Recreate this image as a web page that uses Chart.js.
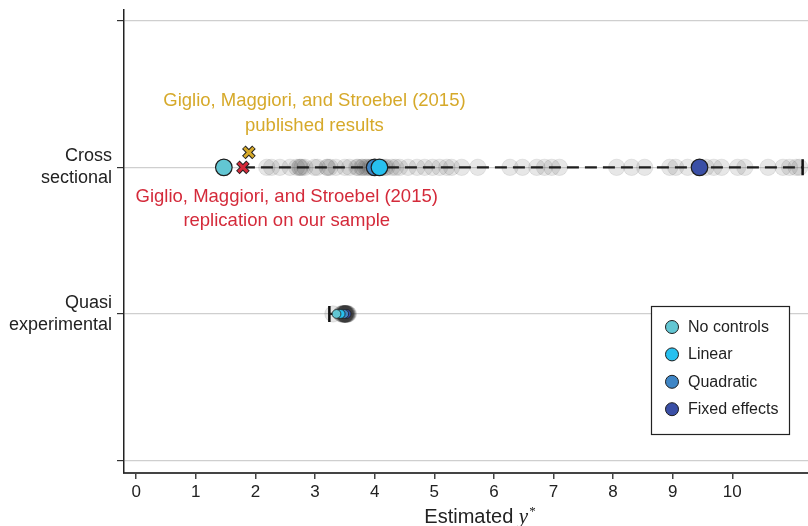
<!DOCTYPE html>
<html>
<head>
<meta charset="utf-8">
<script src="https://cdn.jsdelivr.net/npm/chart.js@4"></script>
<style>
  html, body { margin: 0; padding: 0; background: #ffffff; }
  #wrap { width: 808px; height: 526px; }
</style>
</head>
<body>
<div id="wrap"><canvas id="c" width="808" height="526"></canvas></div>
<script>
// Rows of the chart (category positions 1 and 2 on the vertical scale)
const rowLabels = [["Cross", "sectional"], ["Quasi", "experimental"]];
const rowPositions = [0, 1, 2, 3];
const xTickValues = [0, 1, 2, 3, 4, 5, 6, 7, 8, 9, 10];

// Headline estimates by control specification
const seriesNames = ["No controls", "Linear", "Quadratic", "Fixed effects"];
const seriesColors = ["#62C6D3", "#27C0EF", "#3F86C6", "#3A4FA6"];
const crossEstimates = [1.47, 4.08, 4.00, 9.45];
const quasiEstimates = [3.36, 3.43, 3.49, 3.53];

// All individual specification estimates (grey cloud)
const crossSpecs = [2.19, 2.27, 2.41, 2.58, 2.69, 2.74, 2.83, 2.99, 3.04, 3.21,
  3.35, 3.50, 3.58, 3.70, 3.78, 3.85, 3.92, 4.00, 4.05, 4.17, 4.29, 4.42, 4.56,
  4.71, 4.84, 4.97, 5.09, 5.21, 5.29, 5.46, 5.73, 6.27, 6.48, 6.72, 6.85, 6.97,
  7.10, 8.06, 8.31, 8.53, 8.95, 9.05, 9.25, 9.56, 9.69, 9.82, 10.09, 10.21,
  10.60, 10.85, 10.96, 11.07, 11.13,
  2.75, 2.78, 3.20, 3.25, 3.72, 3.80, 3.88, 3.95, 4.12, 4.20, 4.35];
const quasiSpecs = [3.30, 3.44, 3.45, 3.46, 3.47, 3.47, 3.48, 3.48, 3.49, 3.49,
  3.50, 3.50, 3.50, 3.50, 3.51, 3.51, 3.51, 3.52, 3.52, 3.52, 3.53, 3.53, 3.54,
  3.54, 3.55, 3.56, 3.50, 3.49, 3.51, 3.50];

// Range of estimates in each row
const crossRange = [1.79, 11.18];
const quasiRange = [3.24, 3.50];

// Giglio, Maggiori, and Stroebel (2015) reference points
const gmsPublished = 1.89;
const gmsReplication = 1.79;
const gmsColors = ["#D6A92A", "#D42A3A"];

const FONT = "'Liberation Sans', Arial, Helvetica, sans-serif";

const pts = (vals, row) => vals.map(v => ({ x: v, y: row }));

const datasets = [];

// colored specification markers (top layer)
seriesNames.forEach((name, i) => {
  datasets.push({
    type: 'scatter', label: name, order: 1,
    data: [{ x: crossEstimates[i], y: 1 }],
    backgroundColor: seriesColors[i], borderColor: '#1e1e1e', borderWidth: 1.2,
    pointRadius: 8.3
  });
  datasets.push({
    type: 'scatter', label: name + ' (quasi)', order: 1,
    data: [{ x: quasiEstimates[i], y: 2 }],
    backgroundColor: seriesColors[i], borderColor: '#1e1e1e', borderWidth: 0.8,
    pointRadius: 4.4
  });
});

// GMS markers: colored X over a dark outline
const gmsPoints = [[{ x: gmsPublished, y: 0.898 }], [{ x: gmsReplication, y: 1 }]];
gmsPoints.forEach((d, i) => {
  datasets.push({
    type: 'scatter', order: 2, data: d, pointStyle: 'crossRot',
    borderColor: gmsColors[i], borderWidth: 3, pointRadius: 6.5
  });
  datasets.push({
    type: 'scatter', order: 3, data: d, pointStyle: 'crossRot',
    borderColor: '#222', borderWidth: 5, pointRadius: 7.2
  });
});

// range lines with end caps
datasets.push({
  type: 'line', order: 4, data: pts(crossRange, 1),
  borderColor: '#1f1f1f', borderWidth: 2.2, borderDash: [12, 6],
  pointRadius: 0, fill: false
});
datasets.push({
  type: 'line', order: 4, data: pts(quasiRange, 2),
  borderColor: '#1f1f1f', borderWidth: 2.2,
  pointRadius: 0, fill: false
});
datasets.push({
  type: 'scatter', order: 4,
  data: [{ x: crossRange[1], y: 1 }, { x: quasiRange[0], y: 2 }],
  pointStyle: 'line', rotation: 90, pointRadius: 8,
  borderColor: '#111', borderWidth: 2.5
});

// grey cloud of all estimates (bottom layer)
datasets.push({
  type: 'scatter', order: 5, data: pts(crossSpecs, 1).concat(pts(quasiSpecs, 2)),
  backgroundColor: 'rgba(60,60,60,0.12)', borderColor: 'rgba(60,60,60,0.10)',
  borderWidth: 1, pointRadius: 8.2
});

// Text annotations, legend and x title
const decorations = {
  id: 'decorations',
  afterDraw(chart) {
    const { ctx, scales: { x, y } } = chart;
    ctx.save();
    ctx.textAlign = 'center';
    ctx.textBaseline = 'middle';
    ctx.font = `18.5px ${FONT}`;
    ctx.fillStyle = gmsColors[0];
    ctx.fillText('Giglio, Maggiori, and Stroebel (2015)', x.getPixelForValue(2.99), y.getPixelForValue(0.55));
    ctx.fillText('published results', x.getPixelForValue(2.99), y.getPixelForValue(0.714));
    ctx.fillStyle = gmsColors[1];
    ctx.fillText('Giglio, Maggiori, and Stroebel (2015)', x.getPixelForValue(2.525), y.getPixelForValue(1.205));
    ctx.fillText('replication on our sample', x.getPixelForValue(2.525), y.getPixelForValue(1.368));

    // legend box
    const bx = 651.5, by = 306.5, bw = 138, bh = 128;
    ctx.fillStyle = '#ffffff';
    ctx.fillRect(bx, by, bw, bh);
    ctx.strokeStyle = '#222';
    ctx.lineWidth = 1.2;
    ctx.strokeRect(bx, by, bw, bh);
    ctx.textAlign = 'left';
    ctx.font = `16px ${FONT}`;
    seriesNames.forEach((name, i) => {
      const cy = by + 20.5 + i * 27.4;
      ctx.beginPath();
      ctx.arc(bx + 20.5, cy, 6.5, 0, Math.PI * 2);
      ctx.fillStyle = seriesColors[i];
      ctx.fill();
      ctx.lineWidth = 1;
      ctx.strokeStyle = '#1e1e1e';
      ctx.stroke();
      ctx.fillStyle = '#222';
      ctx.fillText(name, bx + 36.5, cy + 0.5);
    });

    // x axis title: Estimated y*
    ctx.textBaseline = 'alphabetic';
    const part1 = 'Estimated ';
    ctx.font = `20px ${FONT}`;
    const w1 = ctx.measureText(part1).width;
    ctx.font = `italic 21px 'Liberation Serif', 'DejaVu Serif', serif`;
    const w2 = ctx.measureText('y').width;
    ctx.font = `13px 'Liberation Serif', serif`;
    const w3 = ctx.measureText('*').width;
    const total = w1 + w2 + w3 + 1;
    let sx = 480 - total / 2;
    const base = 522.5;
    ctx.fillStyle = '#222';
    ctx.font = `20px ${FONT}`;
    ctx.fillText(part1, sx, base);
    sx += w1;
    ctx.font = `italic 21px 'Liberation Serif', 'DejaVu Serif', serif`;
    ctx.fillText('y', sx, base);
    sx += w2 + 1;
    ctx.font = `13px 'Liberation Serif', serif`;
    ctx.fillText('*', sx, base - 8);
    ctx.restore();
  }
};

// keep tick labels from pushing the plot area inward
const noLabelPadding = s => {
  s.paddingTop = 0; s.paddingBottom = 0; s.paddingLeft = 0; s.paddingRight = 0;
};

new Chart(document.getElementById('c'), {
  type: 'scatter',
  data: { datasets },
  plugins: [decorations],
  options: {
    responsive: false,
    devicePixelRatio: 1,
    animation: false,
    layout: { autoPadding: false, padding: { top: 9.3, right: 0, bottom: 0, left: 0 } },
    plugins: { legend: { display: false }, tooltip: { enabled: false } },
    scales: {
      x: {
        type: 'linear', min: -0.205, max: 11.27,
        afterBuildTicks: s => { s.ticks = xTickValues.map(v => ({ value: v })); },
        afterFit: s => { s.height = 53; noLabelPadding(s); },
        grid: { drawOnChartArea: false, tickColor: '#444', tickLength: 6, lineWidth: 1.5 },
        border: { color: '#444', width: 2 },
        ticks: { font: { family: FONT, size: 17 }, color: '#222', padding: 3, maxRotation: 0, autoSkip: false }
      },
      y: {
        type: 'linear', reverse: true, min: -0.078, max: 3.085,
        afterBuildTicks: s => { s.ticks = rowPositions.map(v => ({ value: v })); },
        afterFit: s => { s.width = 124; noLabelPadding(s); },
        grid: { color: '#cfcfcf', lineWidth: 1.2, tickColor: '#333', tickLength: 7 },
        border: { color: '#222', width: 1.5 },
        ticks: {
          callback: v => (v === 1 ? rowLabels[0] : v === 2 ? rowLabels[1] : ''),
          font: { family: FONT, size: 18, lineHeight: 1.22 }, color: '#222', padding: 5, autoSkip: false
        }
      }
    }
  }
});
</script>
</body>
</html>
